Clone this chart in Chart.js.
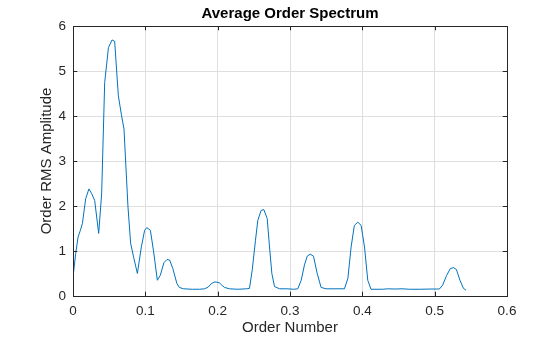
<!DOCTYPE html>
<html>
<head>
<meta charset="utf-8">
<script src="https://cdn.jsdelivr.net/npm/chart.js@4/dist/chart.umd.min.js"></script>
<style>
  html, body { margin: 0; padding: 0; background: #ffffff; }
  #wrap { width: 560px; height: 337px; }
</style>
</head>
<body>
<div id="wrap"><canvas id="chart" width="560" height="337"></canvas></div>
<script>
// Averaged order spectrum: RMS amplitude per order number
const orderNumber = [
  0, 0.0037, 0.007, 0.010, 0.013, 0.0175, 0.022, 0.026, 0.030, 0.0355,
  0.0396, 0.0438, 0.049, 0.054, 0.0576, 0.0627, 0.0668, 0.0705, 0.076, 0.0797,
  0.084, 0.089, 0.0945, 0.099, 0.102, 0.107, 0.1115, 0.1166, 0.1207, 0.1257,
  0.130, 0.1336, 0.138, 0.1436, 0.147, 0.153, 0.165, 0.175, 0.182, 0.187,
  0.191, 0.195, 0.198, 0.2026, 0.2065, 0.2095, 0.2164, 0.228, 0.240, 0.244,
  0.2478, 0.2523, 0.2555, 0.260, 0.2638, 0.2685, 0.2717, 0.2749, 0.2786, 0.2855,
  0.296, 0.305, 0.3108, 0.3155, 0.320, 0.3238, 0.328, 0.3325, 0.3376, 0.343,
  0.350, 0.362, 0.3753, 0.380, 0.3845, 0.389, 0.3937, 0.3983, 0.403, 0.4075,
  0.412, 0.428, 0.435, 0.445, 0.455, 0.465, 0.480, 0.495, 0.5065, 0.511,
  0.5166, 0.5217, 0.526, 0.530, 0.535, 0.5397, 0.5434
];
const rmsAmplitude = [
  0.42, 0.94, 1.31, 1.45, 1.61, 2.16, 2.38, 2.27, 2.12, 1.39,
  2.27, 4.74, 5.52, 5.69, 5.66, 4.45, 4.04, 3.71, 1.98, 1.17,
  0.85, 0.50, 1.09, 1.46, 1.52, 1.46, 0.98, 0.35, 0.46, 0.74,
  0.81, 0.80, 0.61, 0.28, 0.19, 0.16, 0.15, 0.15, 0.16, 0.20,
  0.27, 0.31, 0.31, 0.29, 0.23, 0.19, 0.16, 0.15, 0.16, 0.17,
  0.58, 1.24, 1.68, 1.90, 1.92, 1.72, 1.09, 0.50, 0.21, 0.16,
  0.16, 0.15, 0.16, 0.35, 0.69, 0.885, 0.93, 0.885, 0.50, 0.19,
  0.16, 0.16, 0.16, 0.39, 1.09, 1.57, 1.64, 1.57, 1.09, 0.35,
  0.15, 0.15, 0.16, 0.155, 0.16, 0.15, 0.15, 0.155, 0.155, 0.24,
  0.46, 0.61, 0.63, 0.59, 0.35, 0.17, 0.13
];
const xTicks = [0, 0.1, 0.2, 0.3, 0.4, 0.5, 0.6];
const yTicks = [0, 1, 2, 3, 4, 5, 6];
const chartTitle = 'Average Order Spectrum';

const FONT = "'Liberation Sans', Arial, Helvetica, sans-serif";
const AXIS_COLOR = '#262626';
const GRID_COLOR = '#dfdfdf';
const TICK_LEN = 4.3;

const points = orderNumber.map((x, i) => ({ x: x, y: rmsAmplitude[i] }));

// Closed box with inward tick marks on all four sides, plus a title centred over the axes
const boxPlugin = {
  id: 'boxTicks',
  afterDraw(chart) {
    const { ctx, chartArea: a, scales } = chart;
    const xs = scales.x, ys = scales.y;
    ctx.save();
    ctx.strokeStyle = AXIS_COLOR;
    ctx.lineWidth = 1;
    ctx.beginPath();
    ctx.rect(Math.round(a.left) + 0.5, Math.round(a.top) + 0.5,
             Math.round(a.right) - Math.round(a.left), Math.round(a.bottom) - Math.round(a.top));
    xTicks.forEach(v => {
      const px = Math.round(xs.getPixelForValue(v)) + 0.5;
      ctx.moveTo(px, a.bottom); ctx.lineTo(px, a.bottom - TICK_LEN);
      ctx.moveTo(px, a.top); ctx.lineTo(px, a.top + TICK_LEN);
    });
    yTicks.forEach(v => {
      const py = Math.round(ys.getPixelForValue(v)) + 0.5;
      ctx.moveTo(a.left, py); ctx.lineTo(a.left + TICK_LEN, py);
      ctx.moveTo(a.right, py); ctx.lineTo(a.right - TICK_LEN, py);
    });
    ctx.stroke();

    ctx.fillStyle = '#000000';
    ctx.font = 'bold 15px ' + FONT;
    ctx.textAlign = 'center';
    ctx.textBaseline = 'middle';
    ctx.fillText(chartTitle, (a.left + a.right) / 2, 14);
    ctx.restore();
  }
};

new Chart(document.getElementById('chart'), {
  type: 'line',
  data: {
    datasets: [{
      data: points,
      borderColor: '#0072BD',
      borderWidth: 1,
      pointRadius: 0,
      tension: 0,
      fill: false
    }]
  },
  options: {
    responsive: false,
    animation: false,
    layout: { padding: { top: 26, right: 53, bottom: 0, left: 0 } },
    plugins: {
      legend: { display: false },
      tooltip: { enabled: false },
      title: { display: false }
    },
    scales: {
      x: {
        type: 'linear',
        min: 0, max: 0.6,
        afterBuildTicks(scale) { scale.ticks = xTicks.map(v => ({ value: v })); },
        afterFit(scale) { scale.height = 41; },
        grid: { color: GRID_COLOR, drawTicks: false },
        border: { display: true, color: AXIS_COLOR },
        ticks: {
          color: AXIS_COLOR,
          padding: 7,
          font: { family: FONT, size: 13.5 },
          callback: v => String(v)
        },
        title: {
          display: true,
          text: 'Order Number',
          color: AXIS_COLOR,
          font: { family: FONT, size: 15 },
          padding: { top: 0, bottom: 0 }
        }
      },
      y: {
        type: 'linear',
        min: 0, max: 6,
        afterBuildTicks(scale) { scale.ticks = yTicks.map(v => ({ value: v })); },
        afterFit(scale) { scale.width = 73; },
        grid: { color: GRID_COLOR, drawTicks: false },
        border: { display: true, color: AXIS_COLOR },
        ticks: {
          color: AXIS_COLOR,
          padding: 7,
          font: { family: FONT, size: 13.5 },
          callback: v => String(v)
        },
        title: {
          display: true,
          text: 'Order RMS Amplitude',
          color: AXIS_COLOR,
          font: { family: FONT, size: 15 },
          padding: { top: 38, bottom: 0 }
        }
      }
    }
  },
  plugins: [boxPlugin]
});
</script>
</body>
</html>
